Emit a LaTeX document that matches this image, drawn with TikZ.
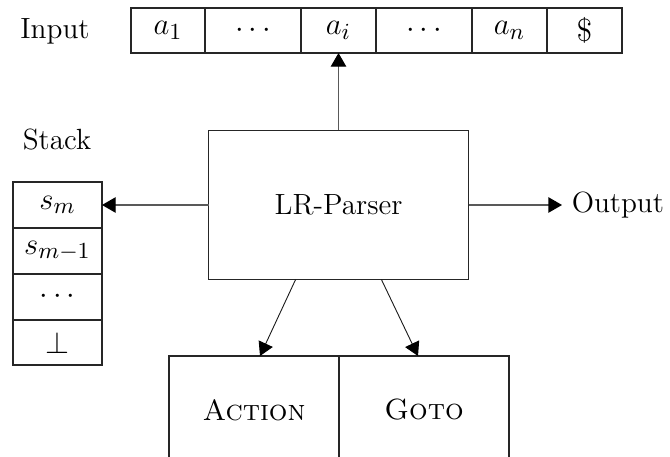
\documentclass[tikz,border=0pt]{standalone}
\usetikzlibrary{arrows.meta,calc}
\newcommand\pxu{0.39pt}
\begin{document}
\begin{tikzpicture}[x=0.39pt,y=-0.39pt,
  txt/.style={font=\fontsize{11.4}{13}\selectfont, inner sep=0pt},
  mth/.style={font=\fontsize{12.5}{14}\selectfont},
  box/.style={draw=black!85, line width=0.55pt, inner sep=0pt, outer sep=0pt},
  tcell/.style={box, mth, minimum height=45*\pxu},
  scell/.style={box, mth, minimum width=89*\pxu},
  conn/.style={draw=black!65, line width=0.45pt, -{Triangle[length=5.3pt,width=6pt,color=black]}},
  diag/.style={draw=black!90, line width=0.35pt, -{Triangle[length=5.3pt,width=6pt,color=black]}}]
\clip (0,0) rectangle (670,457);
\useasboundingbox (0,0) rectangle (670,457);

% input tape
\node[txt] (inlabel) at (55,31) {Input};
\node[tcell, minimum width=74*\pxu] (a1) at (168,30.5) {$a_1$};
\node[tcell, minimum width=96*\pxu] (d1) at (253,30.5) {$\cdots$};
\node[tcell, minimum width=75*\pxu] (ai) at (338.5,30.5) {$a_i$};
\node[tcell, minimum width=96*\pxu] (d2) at (424,30.5) {$\cdots$};
\node[tcell, minimum width=75*\pxu] (an) at (509.5,30.5) {$a_n$};
\node[tcell, minimum width=75*\pxu] (end) at (584.5,30.5) {\$};

% stack
\node[txt] (stlabel) at (57,140) {Stack};
\node[scell, minimum height=46*\pxu] (s1) at (57.5,205) {$s_m$};
\node[scell, minimum height=46*\pxu] (s2) at (57.5,251) {$s_{m-1}$};
\node[scell, minimum height=46*\pxu] (s3) at (57.5,297) {$\cdots$};
\node[scell, minimum height=45*\pxu] (s4) at (57.5,342.5) {$\bot$};

% parser and tables
\node[box, txt, minimum width=260*\pxu, minimum height=149*\pxu] (parser) at (338.5,205) {LR-Parser};
\node[box, txt, minimum width=170*\pxu, minimum height=108*\pxu] (action) at (254,410) {\textsc{Action}};
\node[box, txt, minimum width=170*\pxu, minimum height=108*\pxu] (goto) at (424,410) {\textsc{Goto}};

% output
\node[txt, anchor=west, inner xsep=3.6pt] (out) at (562,205) {Output};

% connectors
\draw[conn] (parser.north) -- (ai.south);
\draw[conn] (parser.west) -- (s1.east);
\draw[conn] (parser.east) -- (out.west);
\draw[diag] ($(parser.south west)!0.335!(parser.south east)$) -- ($(action.north)+(6,0)$);
\draw[diag] ($(parser.south west)!0.665!(parser.south east)$) -- ($(goto.north)+(-6,0)$);
\end{tikzpicture}
\end{document}
